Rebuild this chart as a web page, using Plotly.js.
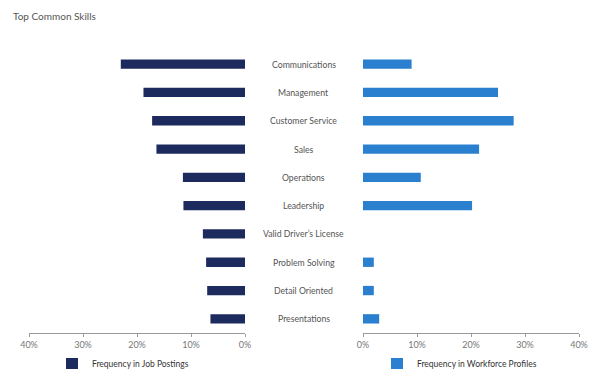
<!DOCTYPE html>
<html>
<head>
<meta charset="utf-8">
<script src="https://cdn.plot.ly/plotly-3.0.1.min.js"></script>
<style>html,body{margin:0;padding:0;background:#fff;}#chart{width:590px;height:369px;}</style>
</head>
<body>
<div id="chart"></div>
<script>
const categories = ["Communications","Management","Customer Service","Sales","Operations","Leadership","Valid Driver's License","Problem Solving","Detail Oriented","Presentations"];
const categoryLabels = ["Communications","Management","Customer Service","Sales","Operations","Leadership","Valid Driver\u2019s License","Problem Solving","Detail Oriented","Presentations"];
const jobPostings = [23.0, 18.8, 17.2, 16.4, 11.5, 11.4, 7.8, 7.2, 7.0, 6.4];
const workforceProfiles = [9.0, 25.0, 27.9, 21.5, 10.7, 20.2, 0, 2.0, 2.0, 3.0];
const tickVals = [0, 10, 20, 30, 40];
const tickText = ["0%", "10%", "20%", "30%", "40%"];
const seriesNames = ["Frequency in Job Postings", "Frequency in Workforce Profiles"];

const font = "Lato, 'Open Sans', sans-serif";

const traces = [
  {type: "bar", orientation: "h", x: jobPostings, y: categories, name: seriesNames[0],
   xaxis: "x", yaxis: "y", marker: {color: "#1c2a5e"}, width: 0.33, legend: "legend", hoverinfo: "x+y"},
  {type: "bar", orientation: "h", x: workforceProfiles, y: categories, name: seriesNames[1],
   xaxis: "x2", yaxis: "y2", marker: {color: "#2a80cf"}, width: 0.33, legend: "legend2", hoverinfo: "x+y"}
];

const axisCommon = {
  tickvals: tickVals, ticktext: tickText, showgrid: false, zeroline: false,
  showline: true, linecolor: "#9a9a9a", linewidth: 1,
  ticks: "outside", ticklen: 3, tickcolor: "#9a9a9a",
  tickfont: {family: font, size: 9, color: "#777"}, fixedrange: true
};

const annotations = categories.map((c, i) => ({
  x: 0.515, xref: "paper", y: c, yref: "y", text: categoryLabels[i],
  showarrow: false, xanchor: "center", yanchor: "middle",
  font: {family: font, size: 8.7, color: "#555"}
}));

const legendCommon = {
  yref: "container", y: 5/369, yanchor: "middle", orientation: "h",
  font: {family: font, size: 8.5, color: "#333"}, bgcolor: "rgba(0,0,0,0)", itemwidth: 30
};

const layout = {
  width: 590, height: 369,
  margin: {l: 0, r: 0, t: 50, b: 36, autoexpand: false},
  paper_bgcolor: "#fff", plot_bgcolor: "#fff",
  title: {text: "Top Common Skills", x: 13/590, xanchor: "left", y: 1 - 16/369, yanchor: "middle",
          font: {family: font, size: 10, color: "#555"}},
  xaxis: Object.assign({}, axisCommon, {domain: [29/590, 245/590], range: [40, 0], anchor: "y"}),
  xaxis2: Object.assign({}, axisCommon, {domain: [363/590, 579/590], range: [0, 40], anchor: "y2"}),
  yaxis: {domain: [0, 1], categoryorder: "array", categoryarray: categories, autorange: "reversed",
          showticklabels: false, showgrid: false, zeroline: false, showline: false, anchor: "x", fixedrange: true},
  yaxis2: {domain: [0, 1], categoryorder: "array", categoryarray: categories, autorange: "reversed",
          showticklabels: false, showgrid: false, zeroline: false, showline: false, anchor: "x2", fixedrange: true},
  showlegend: true,
  legend: Object.assign({}, legendCommon, {x: 52/590, xanchor: "left"}),
  legend2: Object.assign({}, legendCommon, {x: 377/590, xanchor: "left"}),
  annotations: annotations,
  bargap: 0.6
};

Plotly.newPlot("chart", traces, layout, {displayModeBar: false, staticPlot: true});
</script>
</body>
</html>
